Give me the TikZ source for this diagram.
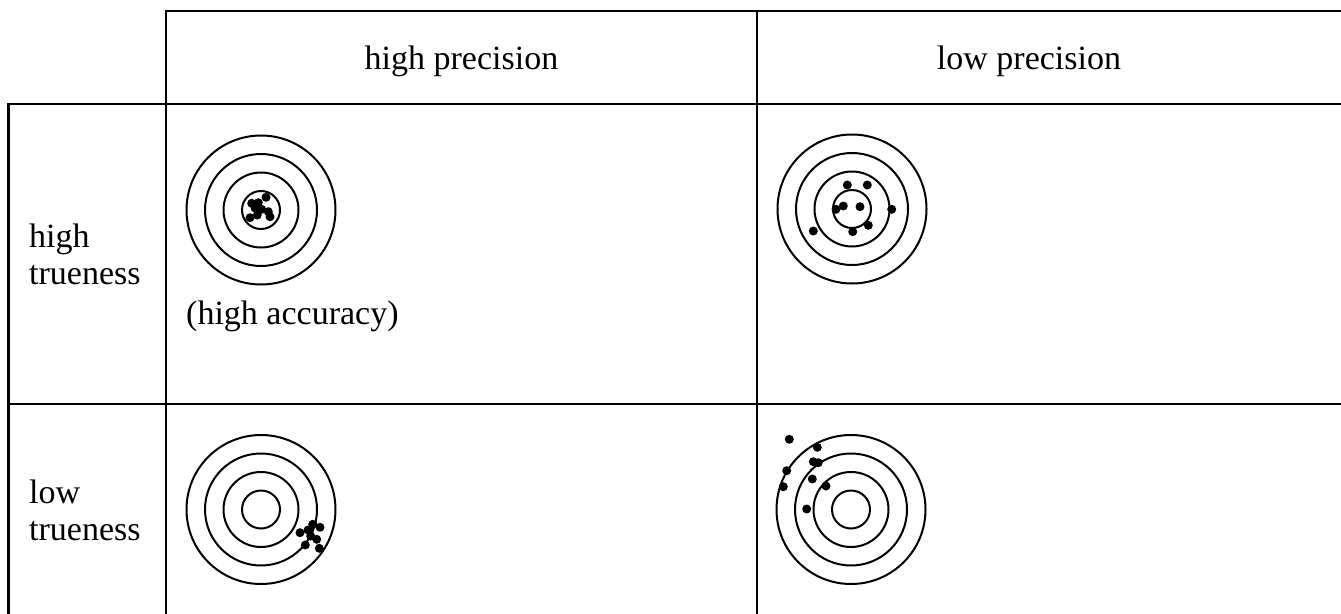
\documentclass[tikz,border=0pt]{standalone}
\usepackage{fontspec}
\setmainfont{Liberation Serif}
\begin{document}
\begin{tikzpicture}[x=1pt,y=-1pt]
\tikzset{
  gridline/.style={line width=2.5pt, line cap=rect},
  ring/.style={line width=2pt},
  hit/.style={fill=black},
  lbl/.style={font=\fontsize{34}{37}\selectfont, inner sep=0pt},
}
\useasboundingbox (0,0) rectangle (1341,613);
\fill[white] (0,0) rectangle (1341,613);
% table lines
\draw[gridline] (166,11) -- (1345,11);
\draw[gridline] (8.5,104) -- (1345,104);
\draw[gridline] (8.5,404) -- (1345,404);
\draw[gridline] (8.5,104) -- (8.5,620);
\draw[gridline] (166,11) -- (166,620);
\draw[gridline] (757,11) -- (757,620);
% labels
\node[lbl, anchor=base] (hp) at (461.5,69) {high precision};
\node[lbl, anchor=base] (lp) at (1029,69) {low precision};
\node[lbl, anchor=base west] (ht1) at (29,247) {high};
\node[lbl, anchor=base west] (ht2) at (29,284) {trueness};
\node[lbl, anchor=base west] (lt1) at (29,503) {low};
\node[lbl, anchor=base west] (lt2) at (29,540) {trueness};
\node[lbl, anchor=base west] (acc) at (186,324) {(high accuracy)};
% targets
\foreach \cx/\cy in {261/210, 852/209, 261/509.5, 851/509.5}{
  \foreach \r in {19,37.5,56,74.5}
    \draw[ring] (\cx,\cy) circle[radius=\r pt];
}
% hits: high trueness, high precision
\foreach \px/\py in {251.7/203.3, 258.3/202.7, 266/197.3, 261.7/209.3, 268.3/211.7, 270/216.7, 250/217.7, 257.3/215, 255/208}
  \fill[hit] (\px,\py) circle[radius=4.5pt];
% hits: high trueness, low precision
\foreach \px/\py in {847.3/185, 867.3/185, 843.3/206, 836/209.3, 860/206.7, 891.7/209.3, 868.3/225.3, 852.7/231.7, 813.3/231}
  \fill[hit] (\px,\py) circle[radius=4.5pt];
% hits: low trueness, high precision
\foreach \px/\py in {300/532.7, 312.7/524.3, 320/527.3, 310.7/536, 316.7/539.3, 305.3/545, 319.3/548.3, 308/530}
  \fill[hit] (\px,\py) circle[radius=4.5pt];
% hits: low trueness, low precision
\foreach \px/\py in {789.3/439.3, 817.3/447.3, 813.3/461.7, 818.3/462.7, 786.7/470.7, 812.3/479, 826/486, 783.3/486.7, 806.7/509}
  \fill[hit] (\px,\py) circle[radius=4.5pt];
\end{tikzpicture}
\end{document}
